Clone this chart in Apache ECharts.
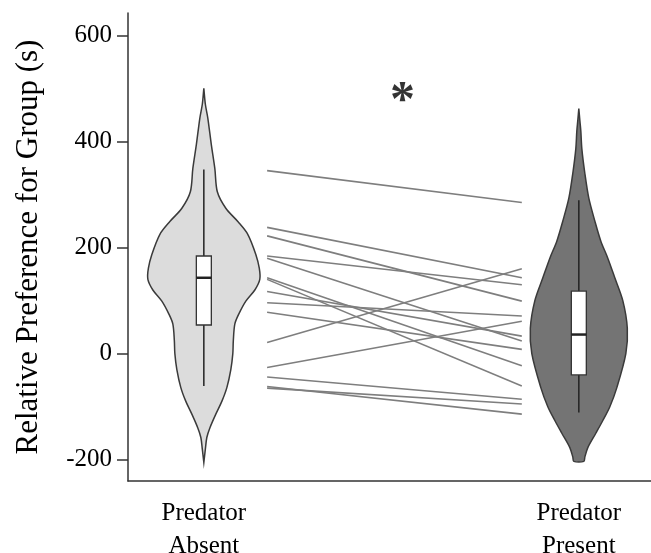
<!DOCTYPE html>
<html>
<head>
<meta charset="utf-8">
<script src="https://cdn.jsdelivr.net/npm/echarts@6/dist/echarts.min.js"></script>
<style>
html, body { margin: 0; padding: 0; background: #fff; }
#main { width: 651px; height: 553px; }
</style>
</head>
<body>
<div id="main"></div>
<script>
// groups and where they sit on the x scale (0..100)
var groups = ['Predator\nAbsent', 'Predator\nPresent'];
var groupX = [14.5, 86.2];
var pairX = [26.6, 75.3];

// y ticks
var yTicks = [-200, 0, 200, 400, 600];

// violin outlines: value / half width (x units)
var absentVals = [500, 470, 444, 394, 349, 305, 274, 249, 225, 187, 161, 140, 120, 99, 75, 56, 25, 0, -30, -64, -90, -114, -140, -158, -180, -205];
var absentWidth = [0, 0.29, 0.76, 1.43, 2.1, 2.58, 4.2, 6.5, 8.4, 9.94, 10.6, 10.7, 9.75, 8.03, 6.7, 5.93, 5.64, 5.54, 5.16, 4.4, 3.44, 2.29, 1.15, 0.57, 0.29, 0];
var presentVals = [462, 440, 420, 387, 340, 293, 250, 212, 180, 143, 100, 48, 0, -64, -100, -126, -150, -177, -195, -203];
var presentWidth = [0, 0.19, 0.38, 0.57, 1.15, 1.91, 3.06, 4.21, 5.54, 6.88, 8.41, 9.27, 8.99, 7.27, 5.93, 4.59, 3.25, 1.72, 1.15, 0.96];

// box stats: min, q1, median, q3, max
var absentBox = [-61, 54, 143, 184, 347];
var presentBox = [-111, -40, 36, 118, 289];

// paired individuals
var absentPaired = [345, 238, 222, 184, 180, 143, 140, 117, 96, 78, 21, -26, -44, -65, -62];
var presentPaired = [285, 143, 99, 130, 24, -23, -61, 33, 71, 8, 160, 61, -86, -95, -114];

var violins = [
    {vals: absentVals, w: absentWidth, box: absentBox, fill: '#dcdcdc'},
    {vals: presentVals, w: presentWidth, box: presentBox, fill: '#747474'}
];

var font = 'Liberation Serif';

function renderViolin(params, api) {
    var i = params.dataIndex;
    var v = violins[i];
    var cx = groupX[i];
    var right = [], left = [];
    for (var k = 0; k < v.vals.length; k++) {
        right.push(api.coord([cx + v.w[k], v.vals[k]]));
        left.unshift(api.coord([cx - v.w[k], v.vals[k]]));
    }
    var pts = right.concat(left);
    var c = api.coord([cx, 0])[0];
    var b = v.box;
    var yMin = api.coord([cx, b[0]])[1];
    var yQ1 = api.coord([cx, b[1]])[1];
    var yMed = api.coord([cx, b[2]])[1];
    var yQ3 = api.coord([cx, b[3]])[1];
    var yMax = api.coord([cx, b[4]])[1];
    var hw = 7.5;
    return {
        type: 'group',
        children: [
            {type: 'polygon', shape: {points: pts, smooth: 0.3},
                style: {fill: v.fill, stroke: '#3a3a3a', lineWidth: 1.5}},
            {type: 'line', shape: {x1: c, y1: yMax, x2: c, y2: yMin},
                style: {stroke: '#222', lineWidth: 1.5}},
            {type: 'rect', shape: {x: c - hw, y: yQ3, width: hw * 2, height: yQ1 - yQ3},
                style: {fill: '#fff', stroke: '#333', lineWidth: 1.3}},
            {type: 'line', shape: {x1: c - hw, y1: yMed, x2: c + hw, y2: yMed},
                style: {stroke: '#222', lineWidth: 2.5}}
        ]
    };
}

var series = [];

for (var i = 0; i < absentPaired.length; i++) {
    series.push({
        type: 'line',
        data: [[pairX[0], absentPaired[i]], [pairX[1], presentPaired[i]]],
        symbol: 'none',
        silent: true,
        lineStyle: {color: '#7e7e7e', width: 1.6},
        z: 2
    });
}

series.push({
    type: 'custom',
    renderItem: renderViolin,
    data: [[groupX[0], 0], [groupX[1], 0]],
    z: 3
});

// significance mark
series.push({
    type: 'scatter',
    data: [[52.5, 491]],
    symbolSize: 0,
    label: {show: true, position: 'inside', formatter: '*', fontFamily: font, fontSize: 50, fontWeight: 'bold', color: '#000', offset: [0, 9]},
    z: 4
});

var chart = echarts.init(document.getElementById('main'));

chart.setOption({
    animation: false,
    backgroundColor: '#fff',
    grid: {left: 128, right: 0, top: 13, bottom: 72, outerBoundsMode: 'none'},
    xAxis: {
        type: 'value',
        min: 0,
        max: 100,
        splitLine: {show: false},
        axisLine: {show: true, onZero: false, lineStyle: {color: '#333', width: 1.5}},
        axisTick: {show: false},
        axisLabel: {
            customValues: groupX,
            formatter: function (val) {
                var idx = groupX.indexOf(val);
                return idx >= 0 ? groups[idx] : '';
            },
            fontFamily: font,
            fontSize: 25,
            color: '#000',
            lineHeight: 33,
            margin: 16
        }
    },
    yAxis: {
        type: 'value',
        min: -240,
        max: 642,
        name: 'Relative Preference for Group (s)',
        nameLocation: 'middle',
        nameRotate: 90,
        nameGap: 84,
        nameTextStyle: {fontFamily: font, fontSize: 31, color: '#000'},
        splitLine: {show: false},
        axisLine: {show: true, onZero: false, lineStyle: {color: '#333', width: 1.5}},
        axisTick: {show: true, customValues: yTicks, length: 11, lineStyle: {color: '#333', width: 1.5}},
        axisLabel: {customValues: yTicks, fontFamily: font, fontSize: 25, color: '#000', margin: 16}
    },
    series: series
});
</script>
</body>
</html>
